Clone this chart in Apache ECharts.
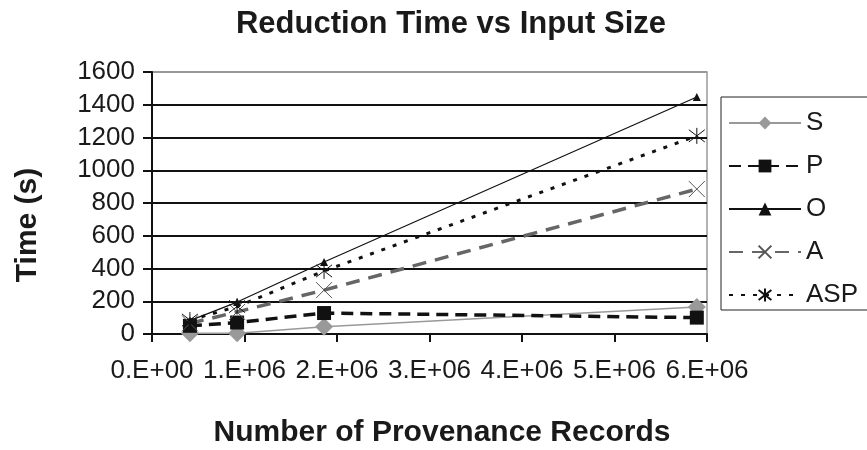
<!DOCTYPE html>
<html><head><meta charset="utf-8">
<script src="https://cdn.jsdelivr.net/npm/echarts@6/dist/echarts.min.js"></script>
<style>html,body{margin:0;padding:0;background:#fff}#c{width:867px;height:450px}</style>
</head><body><div id="c"></div>
<script>
const xRecords = [0.41e6, 0.92e6, 1.86e6, 5.89e6];
const sValues = [5, 5, 45, 165];
const pValues = [50, 70, 128, 100];
const oValues = [82, 195, 440, 1447];
const aValues = [65, 135, 268, 885];
const aspValues = [85, 168, 385, 1210];
const xTickLabels = ['0.E+00','1.E+06','2.E+06','3.E+06','4.E+06','5.E+06','6.E+06'];
const yTicks = [0,200,400,600,800,1000,1200,1400,1600];

const pts = v => v.map((y,i)=>[xRecords[i], y]);
const font = 'Liberation Sans, Arial, sans-serif';
const crossPath = 'path://M0,0L10,10M10,0L0,10';
const starPath = 'path://M0,0L10,10M10,0L0,10M5,-1.5L5,11.5';

const chart = echarts.init(document.getElementById('c'));
chart.setOption({
  animation:false,
  backgroundColor:'#fff',
  title:{text:'Reduction Time vs Input Size',left:446,top:4,textAlign:'center',
    textStyle:{fontFamily:font,fontWeight:'bold',fontSize:31,color:'#1a1a1a'}},
  grid:{left:152,right:160,top:72,bottom:116,show:true,borderColor:'#999',borderWidth:1.5},
  legend:{orient:'vertical',left:721,top:97,padding:[13,40,2,7],itemGap:17,itemWidth:72,itemHeight:16,
    borderColor:'#222',borderWidth:1,textStyle:{fontFamily:font,fontSize:26,color:'#1a1a1a'},
    data:['S','P','O','A','ASP']},
  graphic:[
    {type:'text',position:[442,433],style:{text:'Number of Provenance Records',
      font:'bold 30px Liberation Sans, Arial, sans-serif',fill:'#1a1a1a',textAlign:'center',textVerticalAlign:'middle'}},
    {type:'text',position:[28,225],rotation:Math.PI/2,style:{text:'Time (s)',
      font:'bold 30px Liberation Sans, Arial, sans-serif',fill:'#1a1a1a',textAlign:'center',textVerticalAlign:'middle'}}
  ],
  xAxis:{type:'value',min:0,max:6e6,interval:1e6,
    axisLine:{lineStyle:{color:'#111',width:2}},
    axisTick:{show:true,length:8,lineStyle:{color:'#111',width:2}},
    splitLine:{show:false},
    axisLabel:{fontFamily:font,fontSize:26,color:'#1a1a1a',margin:24,
      formatter:v=>xTickLabels[Math.round(v/1e6)]}},
  yAxis:{type:'value',min:0,max:1600,interval:200,
    axisLine:{show:true,lineStyle:{color:'#111',width:2}},
    axisTick:{show:true,length:9,lineStyle:{color:'#111',width:2}},
    splitLine:{show:true,lineStyle:{color:['#111','#111','#111','#111','#111','#111','#111','#111','#999'],width:2}},
    axisLabel:{fontFamily:font,fontSize:26,color:'#1a1a1a',margin:17,
      formatter:v=>yTicks.includes(v)?String(v):''}},
  series:[
    {name:'S',type:'line',data:pts(sValues),symbol:'diamond',symbolSize:18,
      itemStyle:{color:'#999'},lineStyle:{color:'#999',width:1.5},z:2},
    {name:'P',type:'line',data:pts(pValues),symbol:'rect',symbolSize:14,
      itemStyle:{color:'#111'},lineStyle:{color:'#111',width:3.5,type:[12,7]},z:3},
    {name:'O',type:'line',data:pts(oValues),symbol:'triangle',symbolSize:8,
      itemStyle:{color:'#111'},lineStyle:{color:'#111',width:1.2},z:4},
    {name:'A',type:'line',data:pts(aValues),symbol:crossPath,symbolSize:16,
      itemStyle:{color:'none',borderColor:'#555',borderWidth:1},lineStyle:{color:'#666',width:3.5,type:[14,9]},z:3},
    {name:'ASP',type:'line',data:pts(aspValues),symbol:starPath,symbolSize:16,
      itemStyle:{color:'none',borderColor:'#111',borderWidth:1},lineStyle:{color:'#111',width:3,type:[4,8]},z:5}
  ]
});
</script></body></html>
